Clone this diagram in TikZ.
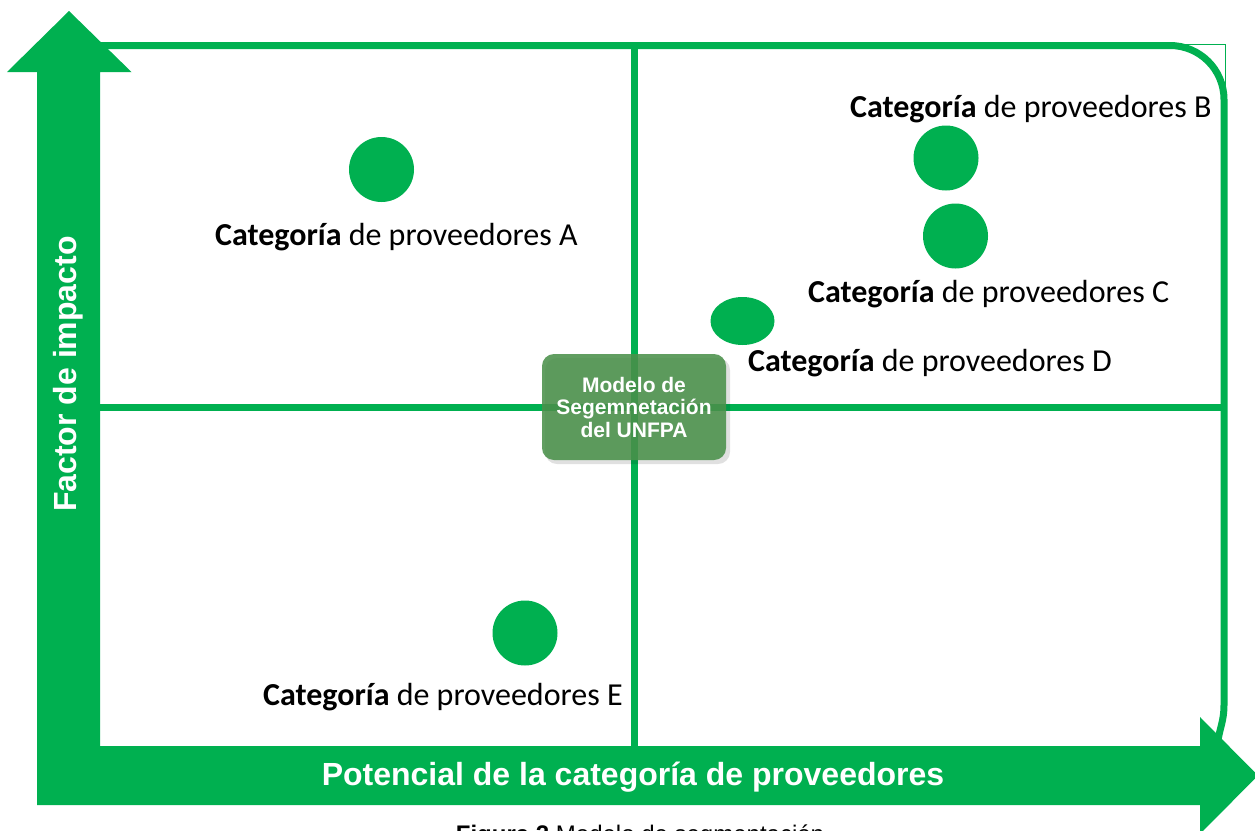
\documentclass[tikz,border=0pt]{standalone}
\usepackage{fontspec}
\usetikzlibrary{shapes.geometric}
\setmainfont{Carlito}
\newfontfamily\arialf{Liberation Sans}
\definecolor{ogreen}{RGB}{0,176,80}
\definecolor{boxgreen}{RGB}{75,145,75}
\tikzset{
  dot/.style={circle, fill=ogreen, minimum size=65pt, inner sep=0pt},
  catlabel/.style={anchor=base west, inner sep=0pt, font=\fontsize{32}{36}\selectfont, text=black},
  grid/.style={draw=ogreen, line width=7pt},
  axislabel/.style={text=white, font=\arialf\bfseries\fontsize{32}{36}\selectfont, inner sep=0pt}
}
\begin{document}
\begin{tikzpicture}[x=1pt, y=-1pt]
\useasboundingbox (0,0) rectangle (1255,830);
% thin corner of bounding rectangle
\draw[ogreen, line width=0.8pt] (1170,44) -- (1225,44) -- (1225,100);
% outer frame
\draw[grid, line cap=butt] (100,45.5) -- (1170,45.5) arc[start angle=270, end angle=360, radius=54] -- (1224,705) .. controls (1224,720) and (1220,728) .. (1218,740);
% dividers
\draw[grid] (634,45.5) -- (634,746);
\draw[grid] (100,407) -- (1224,407);
% L-shaped axis arrows
\fill[ogreen] (37,805) -- (37,72) -- (7,72) -- (69,11) -- (131.5,72) -- (100,72) -- (100,746) -- (1200,746) -- (1200,717) -- (1258,775.5) -- (1200,834) -- (1200,805) -- cycle;
\node[axislabel] (xlab) at (633,777) {Potencial de la categoría de proveedores};
\node[axislabel, rotate=90] (ylab) at (68,374) {Factor de impacto};
% center box
\fill[black, opacity=0.12, rounded corners=12pt] (545,358) rectangle (730,464);
\node[fill=boxgreen, fill opacity=0.88, text opacity=1, rounded corners=12pt, minimum width=184pt, minimum height=106pt, inner sep=0pt, align=center, text=white, font=\arialf\bfseries\fontsize{21}{22.5}\selectfont] (model) at (634,407) {Modelo de\\Segemnetación\\del UNFPA};
% dots
\node[dot] (dA) at (381.5,169.5) {};
\node[dot] (dB) at (946,158) {};
\node[dot] (dC) at (955.5,236) {};
\node[dot, ellipse, minimum width=64pt, minimum height=48pt] (dD) at (742.5,321) {};
\node[dot] (dE) at (525,633) {};
% labels
\node[catlabel] (lA) at (215,245) {\textbf{Categoría} de proveedores A};
\node[catlabel] (lB) at (850,117) {\textbf{Categoría} de proveedores B};
\node[catlabel] (lC) at (808,302) {\textbf{Categoría} de proveedores C};
\node[catlabel] (lD) at (748,371) {\textbf{Categoría} de proveedores D};
\node[catlabel] (lE) at (263,705) {\textbf{Categoría} de proveedores E};
% caption (cut off by the page edge)
\node[anchor=base, inner sep=0pt, font=\arialf\fontsize{24}{28}\selectfont] (cap) at (640,842) {\textbf{Figura 2} Modelo de segmentación};
\end{tikzpicture}
\end{document}
